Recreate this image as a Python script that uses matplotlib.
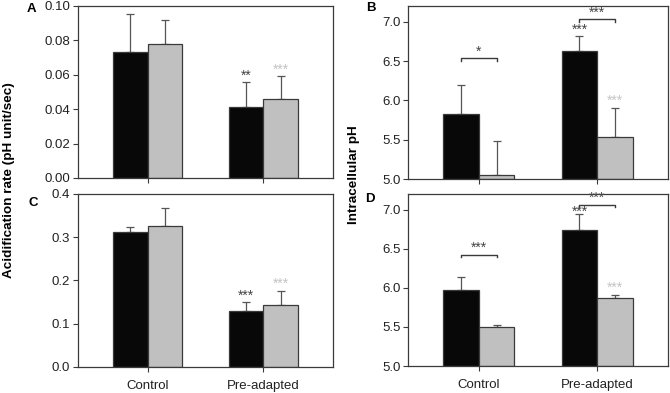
import numpy as np
import matplotlib
matplotlib.use("Agg")
import matplotlib.pyplot as plt

plt.rcParams['font.family'] = ['Liberation Sans', 'DejaVu Sans']

# Data
groups = ["Control", "Pre-adapted"]

# panel A: acidification rate
a_black = [0.0731, 0.0410]
a_black_err = [0.0221, 0.0147]
a_grey = [0.0780, 0.0460]
a_grey_err = [0.0137, 0.0132]

# panel B: intracellular pH
b_black = [5.832, 6.622]
b_black_err = [0.365, 0.200]
b_grey = [5.055, 5.531]
b_grey_err = [0.425, 0.378]

# panel C: acidification rate
c_black = [0.311, 0.130]
c_black_err = [0.013, 0.020]
c_grey = [0.325, 0.1436]
c_grey_err = [0.043, 0.031]

# panel D: intracellular pH
d_black = [5.968, 6.744]
d_black_err = [0.166, 0.205]
d_grey = [5.495, 5.874]
d_grey_err = [0.030, 0.039]

BLACK = "#080808"
GREY = "#c0c0c0"
EDGE = "#3a3a3a"
ERR = "#555555"
STAR_DARK = "#444444"
STAR_LIGHT = "#c4c4c4"

width = 0.3
x = np.arange(len(groups))

fig = plt.figure(figsize=(6.7, 3.93), dpi=100)
axA = fig.add_axes([0.1164, 0.5471, 0.3806, 0.4377])
axB = fig.add_axes([0.6090, 0.5445, 0.3881, 0.4402])
axC = fig.add_axes([0.1164, 0.0662, 0.3806, 0.4402])
axD = fig.add_axes([0.6090, 0.0687, 0.3881, 0.4377])


def draw_bars(ax, black, black_err, grey, grey_err, base=0.0):
    ax.bar(x - width / 2, np.array(black) - base, width, bottom=base,
           color=BLACK, edgecolor=EDGE, linewidth=0.9, zorder=2)
    ax.bar(x + width / 2, np.array(grey) - base, width, bottom=base,
           color=GREY, edgecolor=EDGE, linewidth=0.9, zorder=2)
    ax.errorbar(x - width / 2, black, yerr=[np.zeros(2), black_err], fmt="none",
                ecolor=ERR, elinewidth=0.9, capsize=3, capthick=0.9, zorder=1)
    ax.errorbar(x + width / 2, grey, yerr=[np.zeros(2), grey_err], fmt="none",
                ecolor=ERR, elinewidth=0.9, capsize=3, capthick=0.9, zorder=1)


def style(ax, ylim, yticks, fmt, bottom_labels):
    ax.set_ylim(*ylim)
    ax.set_xlim(-0.6, 1.6)
    ax.set_yticks(yticks)
    ax.set_yticklabels([fmt.format(v) for v in yticks], fontsize=9.5, color="#222222")
    ax.set_xticks(x)
    if bottom_labels:
        ax.set_xticklabels(groups, fontsize=9.5, color="#222222")
    else:
        ax.set_xticklabels([])
    ax.tick_params(axis="both", direction="out", length=3.5, width=0.8, color=EDGE, pad=2)
    ax.tick_params(axis="x", pad=6)
    for s in ax.spines.values():
        s.set_color(EDGE)
        s.set_linewidth(0.9)


def stars(ax, xpos, y, text, color):
    ax.text(xpos, y, text, ha="center", va="center", fontsize=10, color=color)


def bracket(ax, x0, x1, y, h):
    ax.plot([x0, x0, x1, x1], [y - h, y, y, y - h], color=EDGE, lw=1.0)


draw_bars(axA, a_black, a_black_err, a_grey, a_grey_err)
style(axA, (0, 0.10), [0.00, 0.02, 0.04, 0.06, 0.08, 0.10], "{:.2f}", False)
stars(axA, 1 - width / 2, 0.0595, "**", STAR_DARK)
stars(axA, 1 + width / 2, 0.0630, "***", STAR_LIGHT)

draw_bars(axB, b_black, b_black_err, b_grey, b_grey_err, base=5.0)
style(axB, (5.0, 7.2), [5.0, 5.5, 6.0, 6.5, 7.0], "{:.1f}", False)
bracket(axB, -width / 2, width / 2, 6.535, 0.035)
stars(axB, 0, 6.615, "*", STAR_DARK)
bracket(axB, 1 - width / 2, 1 + width / 2, 7.03, 0.035)
stars(axB, 1, 7.11, "***", STAR_DARK)
stars(axB, 1 - width / 2, 6.90, "***", STAR_DARK)
stars(axB, 1 + width / 2, 5.99, "***", STAR_LIGHT)

draw_bars(axC, c_black, c_black_err, c_grey, c_grey_err)
style(axC, (0, 0.4), [0.0, 0.1, 0.2, 0.3, 0.4], "{:.1f}", True)
stars(axC, 1 - width / 2, 0.165, "***", STAR_DARK)
stars(axC, 1 + width / 2, 0.192, "***", STAR_LIGHT)

draw_bars(axD, d_black, d_black_err, d_grey, d_grey_err, base=5.0)
style(axD, (5.0, 7.2), [5.0, 5.5, 6.0, 6.5, 7.0], "{:.1f}", True)
bracket(axD, -width / 2, width / 2, 6.425, 0.035)
stars(axD, 0, 6.51, "***", STAR_DARK)
bracket(axD, 1 - width / 2, 1 + width / 2, 7.065, 0.035)
stars(axD, 1, 7.15, "***", STAR_DARK)
stars(axD, 1 - width / 2, 6.97, "***", STAR_DARK)
stars(axD, 1 + width / 2, 5.995, "***", STAR_LIGHT)

# panel letters
for lx, ly, lab in [(31, 9, "A"), (371, 8, "B"), (33, 203, "C"), (370, 199, "D")]:
    fig.text(lx / 670, 1 - ly / 393, lab, fontsize=9.5, fontweight="bold",
             ha="center", va="center")

fig.text(9 / 670, 1 - 180 / 393, "Acidification rate (pH unit/sec)", rotation=90,
         fontsize=9.7, fontweight="bold", ha="center", va="center")
fig.text(354 / 670, 1 - 175 / 393, "Intracellular pH", rotation=90,
         fontsize=9.7, fontweight="bold", ha="center", va="center")

fig.savefig("out.png", dpi=100)
